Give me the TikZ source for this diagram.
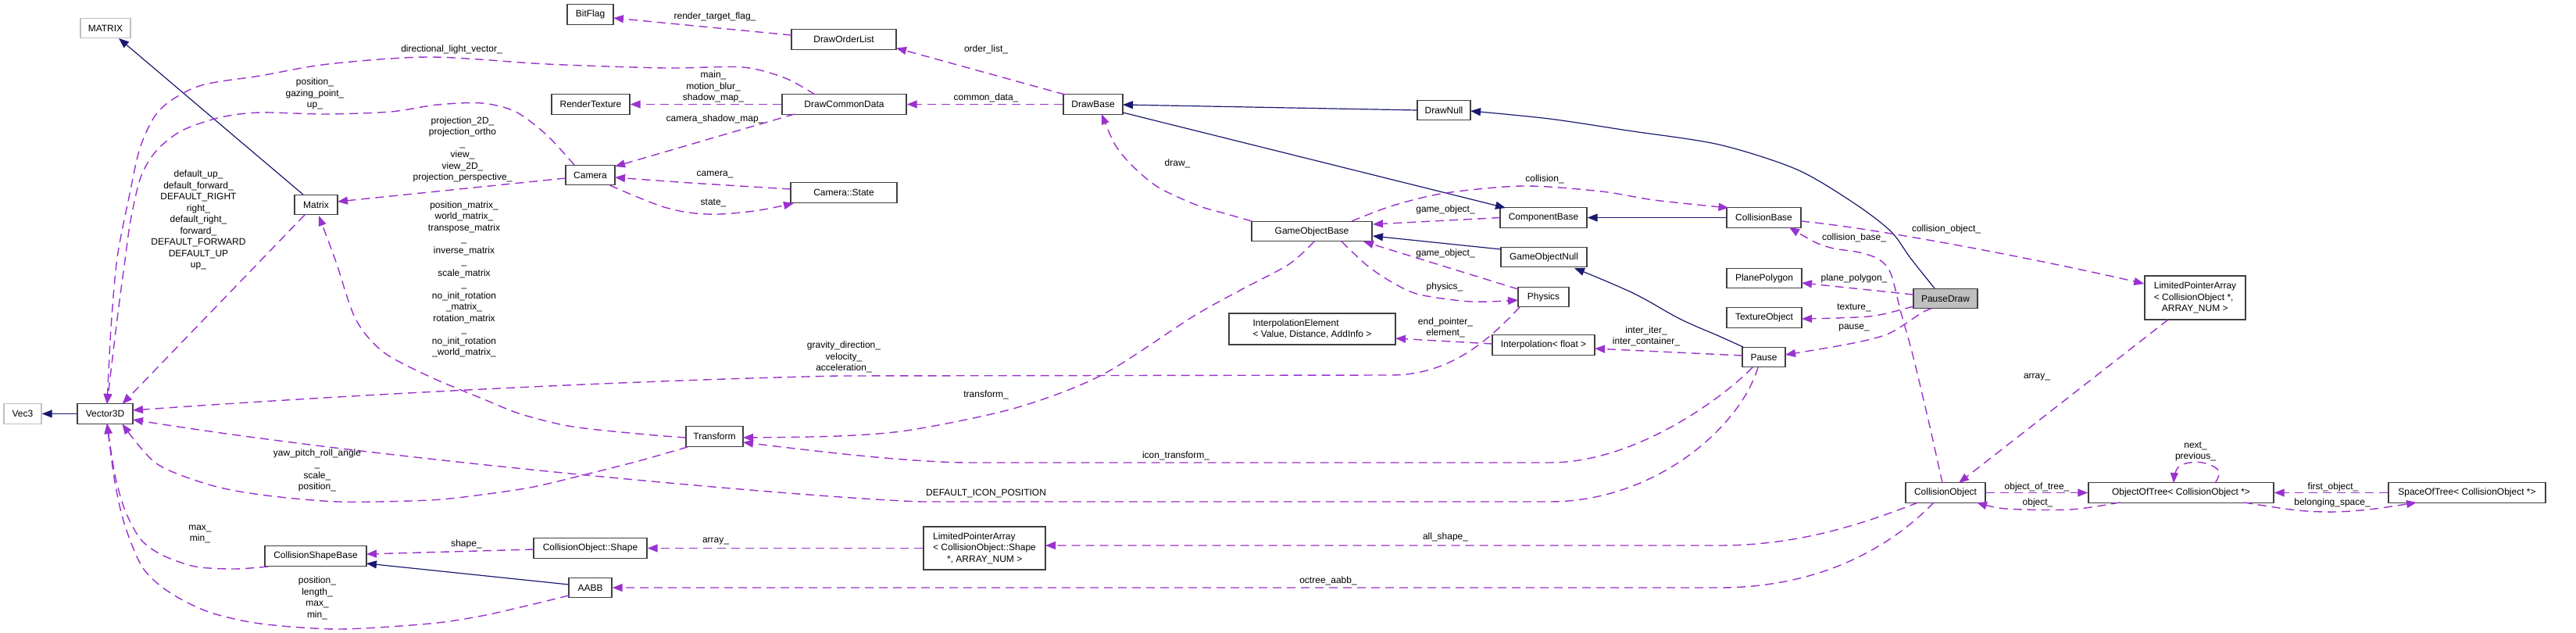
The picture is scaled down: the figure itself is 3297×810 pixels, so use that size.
\documentclass[tikz,border=0pt]{standalone}
\usepackage{fontspec}
\setmainfont{Liberation Sans}
\usetikzlibrary{arrows.meta}
\definecolor{navy}{HTML}{191970}
\definecolor{orchid}{HTML}{9A32CD}
\newcommand\lbl{\fontsize{12}{14.5}\selectfont}
\begin{document}
\begin{tikzpicture}[x=1pt,y=-1pt,
  cls/.style={draw=black!75, line width=1.4pt, fill=white, inner sep=0pt, font=\lbl, minimum height=25.5pt},
  ext/.style={cls, draw=black!25},
  cur/.style={cls, fill=black!25},
  inh/.style={draw=navy, line width=1.2pt, -{Triangle[length=13pt,width=10pt]}},
  use/.style={draw=orchid, line width=1.4pt, dash pattern=on 11pt off 7pt, -{Triangle[length=13pt,width=10pt]}},
  lab/.style={font=\lbl, align=center, inner sep=0pt}]
\fill[white] (0,0) rectangle (3297,810);
\useasboundingbox (0,0) rectangle (3297,810);

% ---------- classes ----------
\node[ext, minimum width=64pt] (MATRIX) at (135,36) {MATRIX};
\node[cls, minimum width=55pt] (mtx) at (404.5,262) {Matrix};
\node[ext, minimum width=48pt] (vec3) at (29,529.5) {Vec3};
\node[cls, minimum width=71pt] (v3d) at (134.5,529.5) {Vector3D};
\node[cls, minimum width=130pt] (csb) at (404,711.5) {CollisionShapeBase};
\node[cls, minimum width=59pt] (bitflag) at (755.5,18.5) {BitFlag};
\node[cls, minimum width=134pt] (dol) at (1080,50.5) {DrawOrderList};
\node[cls, minimum width=100pt] (rtex) at (756,133.5) {RenderTexture};
\node[cls, minimum width=159pt] (dcd) at (1080.5,133.5) {DrawCommonData};
\node[cls, minimum width=63pt] (cam) at (755.5,224) {Camera};
\node[cls, minimum width=136pt] (camst) at (1080,246.5) {Camera::State};
\node[cls, minimum width=76pt] (dbase) at (1399,133.5) {DrawBase};
\node[cls, minimum width=154pt] (gob) at (1679,296) {GameObjectBase};
\node[cls, minimum width=68pt] (dnull) at (1848,141) {DrawNull};
\node[cls, minimum width=111pt] (cbase) at (1975.5,278.5) {ComponentBase};
\node[cls, minimum width=110pt] (gonull) at (1976,329) {GameObjectNull};
\node[cls, minimum width=65pt] (phys) at (1975.5,380) {Physics};
\node[cls, minimum width=213pt, minimum height=40pt, align=left] (ielem) at (1679.5,421) {InterpolationElement\\< Value, Distance, AddInfo >};
\node[cls, minimum width=131pt] (interp) at (1975.5,441.5) {Interpolation< float >};
\node[cls, minimum width=73pt] (trans) at (914.5,558.5) {Transform};
\node[cls, minimum width=145pt] (coshape) at (755.5,701.5) {CollisionObject::Shape};
\node[cls, minimum width=55pt] (aabb) at (755.5,752) {AABB};
\node[cls, minimum width=156pt, minimum height=55pt, align=left] (lpas) at (1260,701.5) {LimitedPointerArray\\< CollisionObject::Shape\\\hspace*{18pt}*, ARRAY\_NUM >};
\node[cls, minimum width=95pt] (colb) at (2257.5,278.5) {CollisionBase};
\node[cls, minimum width=96pt] (plane) at (2258,356) {PlanePolygon};
\node[cls, minimum width=96pt] (tex) at (2258,406.5) {TextureObject};
\node[cur, minimum width=82pt] (pd) at (2490,382) {PauseDraw};
\node[cls, minimum width=55pt] (pause) at (2257.5,457) {Pause};
\node[cls, minimum width=129pt, minimum height=56pt, align=left] (lpac) at (2809.5,381) {LimitedPointerArray\\< CollisionObject *,\\\hspace*{10pt}ARRAY\_NUM >};
\node[cls, minimum width=102pt] (co) at (2490,630.5) {CollisionObject};
\node[cls, minimum width=237pt] (oot) at (2791.5,630.5) {ObjectOfTree< CollisionObject *>};
\node[cls, minimum width=201pt] (sot) at (3157.5,630.5) {SpaceOfTree< CollisionObject *>};

% ---------- inheritance ----------
\draw[inh] ([shift={(-16.5,-13)}]mtx.center) -- ([shift={(17,13)}]MATRIX.center);
\draw[inh] (v3d.west) -- (vec3.east);
\draw[inh] (dnull.west) -- ([shift={(38,0.5)}]dbase.center);
\draw[inh] ([shift={(38,10.5)}]dbase.center) -- ([shift={(-48.5,-12.5)}]cbase.center);
\draw[inh] (colb.west) -- (cbase.east);
\draw[inh] ([shift={(-55,-10)}]gonull.center) -- ([shift={(78,6)}]gob.center);
\draw[inh] plot[smooth,tension=0.6] coordinates {([shift={(-26.5,-13)}]pause.center) (2200,430) (2150,408) (2090,375) ([shift={(39,14)}]gonull.center)};
\draw[inh] plot[smooth,tension=0.5] coordinates {([shift={(-14,-13)}]pd.center) (2445,330) (2420,296) (2373,260) (2300,217) (2200,185) (2083,167) (1983,152) ([shift={(34,1)}]dnull.center)};
\draw[inh] ([shift={(-27.5,-4)}]aabb.center) -- ([shift={(65,9.5)}]csb.center);

% ---------- usage ----------
\draw[use] ([shift={(-67,-5.5)}]dol.center) -- ([shift={(29.5,4.5)}]bitflag.center);
\draw[use] plot[smooth,tension=0.5] coordinates {([shift={(-37.5,-12.5)}]dcd.center) (1005,100) (950,86) (850,87) (700,82) (550,73) (420,82) (333,97) (255,110) (205,140) (180,187) (165,253) (150,330) (142,420) ([shift={(2.5,-12.5)}]v3d.center)};
\draw[use] (dcd.west) -- (rtex.east);
\draw[use] ([shift={(-63.5,12.5)}]dcd.center) -- ([shift={(31.5,-11)}]cam.center);
\draw[use] plot[smooth] coordinates {([shift={(-68,-4.5)}]camst.center) (883,234) ([shift={(31.5,3)}]cam.center)};
\draw[use] plot[smooth,tension=0.6] coordinates {([shift={(25,13)}]cam.center) (850,265) (905,274) (965,270) ([shift={(-64,13.5)}]camst.center)};
\draw[use] plot[smooth,tension=0.5] coordinates {([shift={(-20.5,-13)}]cam.center) (700,173) (660,143) (617,132) (560,134) (500,143) (417,146) (333,144) (283,150) (233,167) (200,193) (180,227) (167,283) (160,333) (150,408) ([shift={(2.5,-12.5)}]v3d.center)};
\draw[use] ([shift={(-31.5,4)}]cam.center) -- ([shift={(27.5,-4)}]mtx.center);
\draw[use] plot[smooth,tension=0.5] coordinates {([shift={(-36.5,1.5)}]trans.center) (827,556) (733,546) (667,530) (617,510) (550,482) (490,450) (455,408) (430,335) ([shift={(3.5,14)}]mtx.center)};
\draw[use] ([shift={(-14.5,13)}]mtx.center) -- ([shift={(22,-12.5)}]v3d.center);
\draw[use] ([shift={(-30.5,13)}]phys.center) .. controls (1910,430) and (1860,480) .. (1780,480) -- (1073,481) .. controls (800,487) and (450,505) .. ([shift={(35.5,-4.5)}]v3d.center);
\draw[use] plot[smooth,tension=0.5] coordinates {([shift={(-34.5,13.5)}]trans.center) (817,590) (750,607) (683,623) (617,633) (550,640) (433,642) (333,633) (267,620) (200,593) ([shift={(22,13)}]v3d.center)};
\draw[use] ([shift={(-7.5,13)}]pause.center) .. controls (2228,545) and (2120,642) .. (1983,642) -- (1180,642) .. controls (1050,638) and (500,590) .. ([shift={(35.5,7.5)}]v3d.center);
\draw[use] ([shift={(-14.5,13)}]pause.center) .. controls (2215,500) and (2100,592) .. (1983,592) -- (1233,592) .. controls (1150,590) and (1050,578) .. ([shift={(36.5,7.5)}]trans.center);
\draw[use] plot[smooth,tension=0.5] coordinates {([shift={(3,13)}]gob.center) (1650,338) (1590,370) (1527,405) (1410,480) (1300,522) (1167,550) (1073,558) ([shift={(36.5,1.5)}]trans.center)};
\draw[use] plot[smooth,tension=0.5] coordinates {([shift={(-77,-13)}]gob.center) (1567,273) (1533,263) (1483,240) (1450,213) (1427,185) ([shift={(11,12.5)}]dbase.center)};
\draw[use] ([shift={(-36,-12.5)}]dbase.center) -- ([shift={(67,11)}]dol.center);
\draw[use] (dbase.west) -- (dcd.east);
\draw[use] ([shift={(-55.5,0)}]cbase.center) -- ([shift={(78,-9)}]gob.center);
\draw[use] plot[smooth,tension=0.5] coordinates {([shift={(51,-13)}]gob.center) (1783,263) (1850,247) (1950,238) (2050,245) (2117,256) ([shift={(-45,-12.5)}]colb.center)};
\draw[use] ([shift={(-32.5,-10)}]phys.center) -- ([shift={(66,13)}]gob.center);
\draw[use] plot[smooth,tension=0.5] coordinates {([shift={(38,13)}]gob.center) (1750,340) (1783,362) (1817,377) (1883,386) ([shift={(-32.5,4)}]phys.center)};
\draw[use] ([shift={(-65.5,-1.5)}]interp.center) -- ([shift={(106.5,12)}]ielem.center);
\draw[use] ([shift={(-27.5,-2)}]pause.center) -- ([shift={(65.5,4.5)}]interp.center);
\draw[use] plot[smooth,tension=0.5] coordinates {([shift={(-18,13)}]pd.center) (2460,400) (2417,427) (2367,440) ([shift={(27.5,-3)}]pause.center)};
\draw[use] plot[smooth,tension=0.5] coordinates {([shift={(-41,10)}]pd.center) (2400,404) (2350,407) ([shift={(48,1.5)}]tex.center)};
\draw[use] ([shift={(-41,-5)}]pd.center) -- ([shift={(48,6)}]plane.center);
\draw[use] plot[smooth,tension=0.5] coordinates {([shift={(-4,-12.5)}]co.center) (2467,533) (2447,450) (2433,400) (2420,350) (2405,332) (2380,323) (2347,318) (2323,310) ([shift={(32.5,12.5)}]colb.center)};
\draw[use] ([shift={(47.5,4.5)}]colb.center) .. controls (2400,292) and (2600,330) .. ([shift={(0,-18)}]lpac.west);
\draw[use] ([shift={(-34.5,28)}]lpac.center) -- ([shift={(17,-12.5)}]co.center);
\draw[use] (co.east) -- (oot.west);
\draw[use] plot[smooth,tension=0.5] coordinates {([shift={(-78.5,12.5)}]oot.center) (2650,652) (2567,651) ([shift={(40,12.5)}]co.center)};
\draw[use] plot[smooth,tension=0.7] coordinates {([shift={(43.5,-12.5)}]oot.center) (2840,603) (2823,593) (2803,592) (2787,599) ([shift={(-9.5,-12.5)}]oot.center)};
\draw[use] (sot.west) -- (oot.east);
\draw[use] plot[smooth,tension=0.5] coordinates {([shift={(80.5,12.5)}]oot.center) (2940,653) (2990,655) (3040,651) ([shift={(-64.5,12.5)}]sot.center)};
\draw[use] ([shift={(-35,12.5)}]co.center) .. controls (2380,672) and (2300,698) .. (2200,698) -- ([shift={(78,-3.5)}]lpas.center);
\draw[use] (lpas.west) -- (coshape.east);
\draw[use] ([shift={(-72.5,1.5)}]coshape.center) -- ([shift={(65,-2.5)}]csb.center);
\draw[use] ([shift={(-15,12.5)}]co.center) .. controls (2420,700) and (2330,752) .. (2200,752) -- (aabb.east);
\draw[use] plot[smooth,tension=0.5] coordinates {([shift={(-61,13.5)}]csb.center) (300,728) (250,725) (207,710) (180,690) (160,653) (147,607) ([shift={(2.5,12.5)}]v3d.center)};
\draw[use] plot[smooth,tension=0.5] coordinates {([shift={(-27.5,10)}]aabb.center) (683,773) (617,788) (550,798) (433,805) (333,798) (267,783) (217,758) (183,727) (160,673) (147,617) ([shift={(2.5,12.5)}]v3d.center)};

% ---------- labels ----------
\node[lab] (Lrtf) at (915,21) {render\_target\_flag\_};
\node[lab] (Ldlv) at (578,63) {directional\_light\_vector\_};
\node[lab] (Lmain) at (913,111) {main\_\\motion\_blur\_\\shadow\_map\_};
\node[lab] (Lcsm) at (915,152) {camera\_shadow\_map\_};
\node[lab] (Lcamera) at (915,223) {camera\_};
\node[lab] (Lstate) at (913,260) {state\_};
\node[lab] (Lpos) at (403,120) {position\_\\gazing\_point\_\\up\_};
\node[lab] (Lproj) at (592,191.5) {projection\_2D\_\\projection\_ortho\\\_\\view\_\\view\_2D\_\\projection\_perspective\_};
\node[lab] (Ltmat) at (594,357.5) {position\_matrix\_\\world\_matrix\_\\transpose\_matrix\\\_\\inverse\_matrix\\\_\\scale\_matrix\\\_\\no\_init\_rotation\\\_matrix\_\\rotation\_matrix\\\_\\no\_init\_rotation\\\_world\_matrix\_};
\node[lab] (Ldflt) at (254,281.5) {default\_up\_\\default\_forward\_\\DEFAULT\_RIGHT\\right\_\\default\_right\_\\forward\_\\DEFAULT\_FORWARD\\DEFAULT\_UP\\up\_};
\node[lab] (Lgrav) at (1080,457) {gravity\_direction\_\\velocity\_\\acceleration\_};
\node[lab] (Lyaw) at (406,602) {yaw\_pitch\_roll\_angle\\\_\\scale\_\\position\_};
\node[lab] (Ldip) at (1262,631) {DEFAULT\_ICON\_POSITION};
\node[lab] (Licon) at (1505,583) {icon\_transform\_};
\node[lab] (Ltransform) at (1262,505) {transform\_};
\node[lab] (Lgo1) at (1850,268) {game\_object\_};
\node[lab] (Lcoll) at (1977,229) {collision\_};
\node[lab] (Lgo2) at (1850,324) {game\_object\_};
\node[lab] (Lphys) at (1849,367) {physics\_};
\node[lab] (Lendp) at (1850,419.5) {end\_pointer\_\\element\_};
\node[lab] (Linter) at (2107,430.5) {inter\_iter\_\\inter\_container\_};
\node[lab] (Lpause) at (2373,420) {pause\_};
\node[lab] (Ltex) at (2373,394) {texture\_};
\node[lab] (Lplane) at (2373,356) {plane\_polygon\_};
\node[lab] (Lcb) at (2373,304) {collision\_base\_};
\node[lab] (Lco) at (2491,293) {collision\_object\_};
\node[lab] (Larray) at (2607,483) {array\_};
\node[lab] (Loot) at (2607,623) {object\_of\_tree\_};
\node[lab] (Lobj) at (2608,643) {object\_};
\node[lab] (Lnp) at (2810,578) {next\_\\previous\_};
\node[lab] (Lfirst) at (2986,623) {first\_object\_};
\node[lab] (Lbel) at (2985,643) {belonging\_space\_};
\node[lab] (Lall) at (1850,687) {all\_shape\_};
\node[lab] (Larr2) at (916,693) {array\_};
\node[lab] (Lshape) at (597,696) {shape\_};
\node[lab] (Loct) at (1700,743) {octree\_aabb\_};
\node[lab] (Lmm) at (256,683.5) {max\_\\min\_};
\node[lab] (Lplmm) at (406,765.5) {position\_\\length\_\\max\_\\min\_};
\node[lab] (Lol) at (1262,63) {order\_list\_};
\node[lab] (Lcd) at (1262,125) {common\_data\_};
\node[lab] (Ldraw) at (1507,209) {draw\_};
\end{tikzpicture}
\end{document}
